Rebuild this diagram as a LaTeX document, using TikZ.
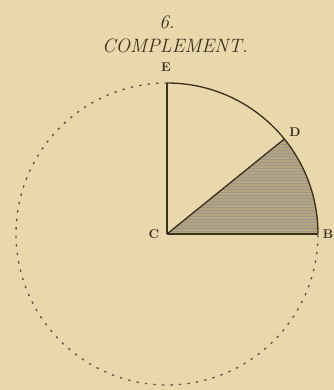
\documentclass[tikz,border=0pt]{standalone}
\usepackage{xcolor}
\usepackage{tikz}
\usetikzlibrary{calc, positioning}

\definecolor{papier}{RGB}{233,216,172}
\definecolor{encre}{RGB}{60,48,30}
\definecolor{hachure}{RGB}{180,165,125}
\definecolor{pointille}{RGB}{100,85,75}

\tikzset{
    lettre/.style={font=\fontsize{9.5}{12}\selectfont\bfseries, text=encre, inner sep=0pt},
    titre/.style={font=\fontsize{14.5}{16}\selectfont\itshape, text=encre, inner sep=0pt}
}

\begin{document}
\begin{tikzpicture}[x=0.75pt, y=0.75pt, line join=round]
    % 1. Cadre
    \fill[papier] (0,0) rectangle (334,390);
    \useasboundingbox (0,0) rectangle (334,390);
    \def\r{151}
    
    % 2. Points
    \coordinate (C) at (167,156);
    \coordinate (E) at ($(C)+(90:\r)$);
    \coordinate (B) at ($(C)+(0:\r)$);
    \coordinate (D) at ($(C)+(39:\r)$);
    
    % 3. Secteur hachuré
    \fill[hachure] (C) -- (B) arc[start angle=0, end angle=39, radius=\r] -- cycle;
    \foreach \h in {3,6,...,93} {
        \draw[encre!50, line width=0.4pt]
            ($(C)+(0,\h)$) -- ++({\r*sqrt(1-(\h/\r)^2)},0);
    }
    \fill[papier] (C) -- (D) -- ($(C)+(0,95)$) -- cycle;
    
    % 4. Cercle en pointillé
    \draw[pointille, line width=1pt, dash pattern=on 1.8pt off 4.6pt]
        (E) arc[start angle=90, end angle=360, radius=\r];
    
    % 5. Quart de cercle et rayons
    \draw[encre, line width=1pt] (E) arc[start angle=90, end angle=0, radius=\r];
    \draw[encre, line width=1pt] (C) -- (E);
    \draw[encre, line width=1pt] (C) -- (B);
    \draw[encre, line width=1pt] (C) -- (D);
    
    % 6. Lettres
    \node[lettre] (lC) at (154,156) {C};
    \node[lettre] (lE) at (166,323) {E};
    \node[lettre] (lD) at (295,258) {D};
    \node[lettre] (lB) at (328,156) {B};
    
    % 7. Titre
    \node[titre] (num) at (167,368) {6.};
    \node[titre] (nom) at (175,344) {COMPLEMENT.};
\end{tikzpicture}
\end{document}
